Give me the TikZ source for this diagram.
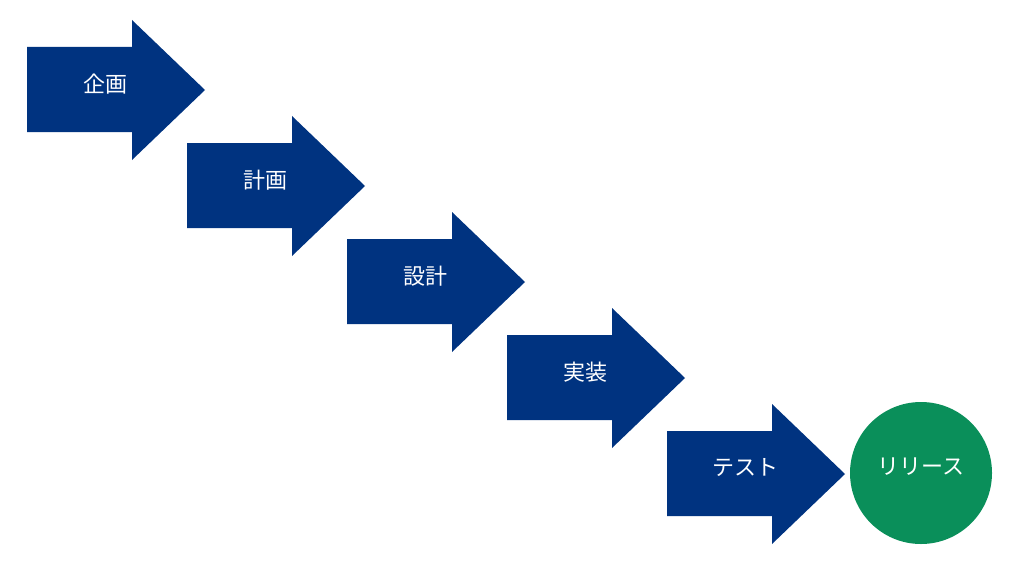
\documentclass[tikz,border=0pt]{standalone}
\usepackage{fontspec}
\newfontfamily\cjk{Noto Sans CJK JP}
\definecolor{navy}{RGB}{0,51,128}
\definecolor{grn}{RGB}{10,143,90}
\begin{document}
\begin{tikzpicture}[x=1pt,y=-1pt]
\useasboundingbox (0,0) rectangle (1024,567);
\tikzset{lbl/.style={text=white,font=\cjk\fontsize{22}{26}\selectfont}}
\foreach \i/\t in {0/企画,1/計画,2/設計,3/実装,4/テスト}{
  \pgfmathsetmacro\dx{160*\i}
  \pgfmathsetmacro\dy{96*\i}
  \begin{scope}[shift={(\dx,\dy)}]
  \fill[navy] (27,47) -- (132,47) -- (132,20) -- (205,90) -- (132,160) -- (132,132) -- (27,132) -- cycle;
  \node[lbl] (s\i) at (105,84) {\t};
  \end{scope}
}
\fill[grn] (921,473) circle (71);
\node[lbl] (r) at (921,467) {リリース};
\end{tikzpicture}
\end{document}
